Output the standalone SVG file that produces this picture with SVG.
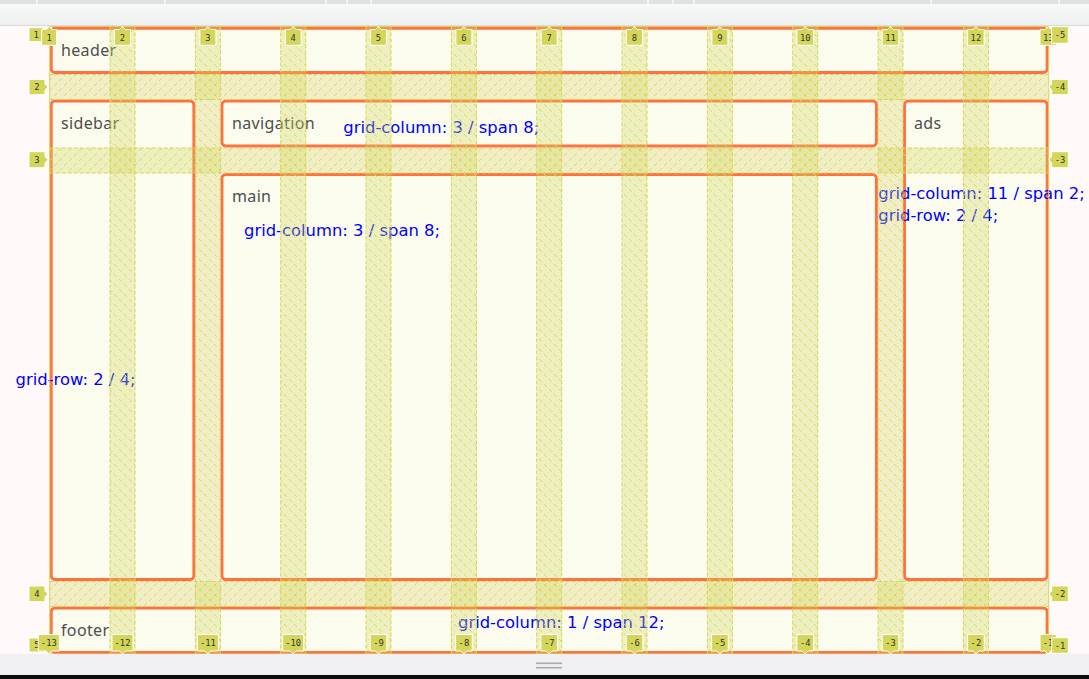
<svg xmlns="http://www.w3.org/2000/svg" width="1089" height="679" viewBox="0 0 1089 679">
<defs>
  <linearGradient id="tb" x1="0" y1="0" x2="0" y2="1">
    <stop offset="0" stop-color="#f9fafa"/><stop offset="1" stop-color="#eef0f0"/>
  </linearGradient>
  <pattern id="hr" width="10" height="10" patternUnits="userSpaceOnUse">
    <path d="M-1,11 L11,-1" stroke="#d6d85c" stroke-width="1" stroke-dasharray="4 3.07"/>
  </pattern>
  <pattern id="hc" width="10" height="10" patternUnits="userSpaceOnUse">
    <path d="M-1,-1 L11,11" stroke="#d6d85c" stroke-width="1" stroke-dasharray="4 3.07"/>
  </pattern>
  <style>
    .item{fill:#fbfbee;stroke:#ff7043;stroke-width:3}
    .name{font-family:"Noto Sans","Open Sans",sans-serif;font-size:16px;letter-spacing:0.35px;fill:#4e4e4e}
    .css{font-family:"DejaVu Sans",sans-serif;font-size:16.4px;fill:#0000ff}
    .gapf{fill:rgba(212,214,90,0.32)}
    .dash{stroke:#d4d65a;stroke-width:1;stroke-dasharray:4 2;fill:none}
    .lb path{fill:#d4d65a;stroke:#ffffff;stroke-width:1}
    .lb text{font-family:"DejaVu Sans Mono",monospace;font-size:8.8px;fill:#333;text-anchor:middle}
  </style>
</defs>

<!-- browser chrome -->
<rect x="0" y="0" width="1089" height="679" fill="#fffaf9"/>
<rect x="0" y="0" width="1089" height="25" fill="url(#tb)"/>
<rect x="0" y="0" width="1089" height="4" fill="#dfe1e5"/>
<g stroke="#ffffff" stroke-width="1.2">
  <line x1="37" y1="0" x2="37" y2="4"/><line x1="165" y1="0" x2="165" y2="4"/>
  <line x1="326" y1="0" x2="326" y2="4"/><line x1="347" y1="0" x2="347" y2="4"/>
  <line x1="371" y1="0" x2="371" y2="4"/><line x1="648" y1="0" x2="648" y2="4"/>
  <line x1="673" y1="0" x2="673" y2="4"/><line x1="694" y1="0" x2="694" y2="4"/>
  <line x1="931" y1="0" x2="931" y2="4"/><line x1="1059" y1="0" x2="1059" y2="4"/>
</g>
<line x1="0" y1="25.5" x2="1089" y2="25.5" stroke="#dcdcdf" stroke-width="1"/>

<!-- grid items -->
<g id="header"><rect class="item" x="51.2" y="28.2" width="996" height="44.3" rx="4"/><text class="name" x="61" y="56">header</text></g>
<g id="sidebar"><rect class="item" x="51.2" y="101" width="142.7" height="478.5" rx="4"/><text class="name" x="61" y="128.5">sidebar</text><text class="css" x="15.5" y="385">grid-row: 2 / 4;</text></g>
<g id="navigation"><rect class="item" x="221.9" y="101" width="654.6" height="45" rx="4"/><text class="name" x="232" y="128.5">navigation</text><text class="css" x="343.3" y="133.3">grid-column: 3 / span 8;</text></g>
<g id="main"><rect class="item" x="221.9" y="174.5" width="654.6" height="405" rx="4"/><text class="name" x="232" y="202">main</text><text class="css" x="244" y="236">grid-column: 3 / span 8;</text></g>
<g id="ads"><rect class="item" x="904.5" y="101" width="142.7" height="478.5" rx="4"/><text class="name" x="914" y="128.5">ads</text><text class="css" x="878.3" y="199.3">grid-column: 11 / span 2;</text><text class="css" x="878.3" y="220.7">grid-row: 2 / 4;</text></g>
<g id="footer"><rect class="item" x="51.2" y="608" width="996" height="44.5" rx="4"/><text class="name" x="61" y="636">footer</text><text class="css" x="458" y="627.5">grid-column: 1 / span 12;</text></g>

<!-- grid overlay -->
<g id="overlay">
  <g class="gapf">
    <rect x="49.7" y="74.5" width="999" height="25"/>
    <rect x="49.7" y="148" width="999" height="25"/>
    <rect x="49.7" y="581.5" width="999" height="25"/>
    <rect x="110.0" y="26.5" width="25" height="627.5"/><rect x="195.4" y="26.5" width="25" height="627.5"/>
    <rect x="280.7" y="26.5" width="25" height="627.5"/><rect x="366.0" y="26.5" width="25" height="627.5"/>
    <rect x="451.4" y="26.5" width="25" height="627.5"/><rect x="536.7" y="26.5" width="25" height="627.5"/>
    <rect x="622.0" y="26.5" width="25" height="627.5"/><rect x="707.4" y="26.5" width="25" height="627.5"/>
    <rect x="792.7" y="26.5" width="25" height="627.5"/><rect x="878.0" y="26.5" width="25" height="627.5"/>
    <rect x="963.4" y="26.5" width="25" height="627.5"/>
  </g>
  <g fill="url(#hr)">
    <rect x="49.7" y="74.5" width="999" height="25"/>
    <rect x="49.7" y="148" width="999" height="25"/>
    <rect x="49.7" y="581.5" width="999" height="25"/>
  </g>
  <g fill="url(#hc)">
    <rect x="110.0" y="26.5" width="25" height="627.5"/><rect x="195.4" y="26.5" width="25" height="627.5"/>
    <rect x="280.7" y="26.5" width="25" height="627.5"/><rect x="366.0" y="26.5" width="25" height="627.5"/>
    <rect x="451.4" y="26.5" width="25" height="627.5"/><rect x="536.7" y="26.5" width="25" height="627.5"/>
    <rect x="622.0" y="26.5" width="25" height="627.5"/><rect x="707.4" y="26.5" width="25" height="627.5"/>
    <rect x="792.7" y="26.5" width="25" height="627.5"/><rect x="878.0" y="26.5" width="25" height="627.5"/>
    <rect x="963.4" y="26.5" width="25" height="627.5"/>
  </g>
  <path class="dash" d="M110.0,26.5V654M135.0,26.5V654M195.4,26.5V654M220.4,26.5V654M280.7,26.5V654M305.7,26.5V654M366.0,26.5V654M391.0,26.5V654M451.4,26.5V654M476.4,26.5V654M536.7,26.5V654M561.7,26.5V654M622.0,26.5V654M647.0,26.5V654M707.4,26.5V654M732.4,26.5V654M792.7,26.5V654M817.7,26.5V654M878.0,26.5V654M903.0,26.5V654M963.4,26.5V654M988.4,26.5V654M49.7,74.5H1048.7M49.7,99.5H1048.7M49.7,148H1048.7M49.7,173H1048.7M49.7,581.5H1048.7M49.7,606.5H1048.7"/>
  <rect x="49.7" y="26.5" width="999" height="627.5" fill="none" stroke="#d4d65a" stroke-width="1"/>
</g>

<!-- line number labels: left rows -->
<g class="lb" id="rows-left">
  <path d="M29,27.7H43.5V41.7H29Z"/><text x="36.2" y="37.8">1</text>
  <path d="M29,79.3H45V84L48,87L45,90V94.7H29Z"/><text x="37" y="90.1">2</text>
  <path d="M29,151.7H45V156.5L48,159.7L45,163V167.7H29Z"/><text x="37" y="162.8">3</text>
  <path d="M29,586H45V591L48,594L45,597V601.7H29Z"/><text x="37" y="597">4</text>
  <path d="M29,638H45V652H29Z"/><text x="37" y="648">5</text>
</g>
<!-- column labels top -->
<g class="lb" id="cols-top">
  <path d="M41.7,29.5H46.2L49.2,26.5L52.2,29.5H56.7V45.3H41.7Z"/><text x="49.2" y="40.5">1</text>
  <path d="M114.5,29.5H119.5L122.5,26.5L125.5,29.5H130.5V45.3H114.5Z"/><text x="122.5" y="40.5">2</text>
  <path d="M199.9,29.5H204.9L207.9,26.5L210.9,29.5H215.9V45.3H199.9Z"/><text x="207.9" y="40.5">3</text>
  <path d="M285.2,29.5H290.2L293.2,26.5L296.2,29.5H301.2V45.3H285.2Z"/><text x="293.2" y="40.5">4</text>
  <path d="M370.5,29.5H375.5L378.5,26.5L381.5,29.5H386.5V45.3H370.5Z"/><text x="378.5" y="40.5">5</text>
  <path d="M455.9,29.5H460.9L463.9,26.5L466.9,29.5H471.9V45.3H455.9Z"/><text x="463.9" y="40.5">6</text>
  <path d="M541.2,29.5H546.2L549.2,26.5L552.2,29.5H557.2V45.3H541.2Z"/><text x="549.2" y="40.5">7</text>
  <path d="M626.5,29.5H631.5L634.5,26.5L637.5,29.5H642.5V45.3H626.5Z"/><text x="634.5" y="40.5">8</text>
  <path d="M711.9,29.5H716.9L719.9,26.5L722.9,29.5H727.9V45.3H711.9Z"/><text x="719.9" y="40.5">9</text>
  <path d="M796.9,29.5H802.2L805.2,26.5L808.2,29.5H813.5V45.3H796.9Z"/><text x="805.2" y="40.5">10</text>
  <path d="M882.2,29.5H887.5L890.5,26.5L893.5,29.5H898.8V45.3H882.2Z"/><text x="890.5" y="40.5">11</text>
  <path d="M967.6,29.5H972.9L975.9,26.5L978.9,29.5H984.2V45.3H967.6Z"/><text x="975.9" y="40.5">12</text>
  <path d="M1040,29.5H1045.3L1048.3,26.5L1051.3,29.5H1056.6V45.3H1040Z"/><text x="1048.3" y="40.5">13</text>
</g>
<!-- column labels bottom -->
<g class="lb" id="cols-bottom">
  <path d="M38.3,634.5H59.3V651H51.8L48.8,654L45.8,651H38.3Z"/><text x="48.8" y="645.5">-13</text>
  <path d="M112,634.5H133V651H125.5L122.5,654L119.5,651H112Z"/><text x="122.5" y="645.5">-12</text>
  <path d="M197.4,634.5H218.4V651H210.9L207.9,654L204.9,651H197.4Z"/><text x="207.9" y="645.5">-11</text>
  <path d="M282.7,634.5H303.7V651H296.2L293.2,654L290.2,651H282.7Z"/><text x="293.2" y="645.5">-10</text>
  <path d="M370.2,634.5H386.8V651H381.5L378.5,654L375.5,651H370.2Z"/><text x="378.5" y="645.5">-9</text>
  <path d="M455.6,634.5H472.2V651H466.9L463.9,654L460.9,651H455.6Z"/><text x="463.9" y="645.5">-8</text>
  <path d="M540.9,634.5H557.5V651H552.2L549.2,654L546.2,651H540.9Z"/><text x="549.2" y="645.5">-7</text>
  <path d="M626.2,634.5H642.8V651H637.5L634.5,654L631.5,651H626.2Z"/><text x="634.5" y="645.5">-6</text>
  <path d="M711.6,634.5H728.2V651H722.9L719.9,654L716.9,651H711.6Z"/><text x="719.9" y="645.5">-5</text>
  <path d="M796.9,634.5H813.5V651H808.2L805.2,654L802.2,651H796.9Z"/><text x="805.2" y="645.5">-4</text>
  <path d="M882.2,634.5H898.8V651H893.5L890.5,654L887.5,651H882.2Z"/><text x="890.5" y="645.5">-3</text>
  <path d="M967.6,634.5H984.2V651H978.9L975.9,654L972.9,651H967.6Z"/><text x="975.9" y="645.5">-2</text>
  <path d="M1040,634.5H1056.3V651H1051L1048,654L1045,651H1040Z"/><text x="1048" y="645.5">-1</text>
</g>
<!-- right row labels -->
<g class="lb" id="rows-right">
  <path d="M1051.7,26.7H1068.3V43.3H1051.7Z"/><text x="1060" y="38">-5</text>
  <path d="M1051.7,79.3H1068.3V94.7H1051.7V90L1048.7,87L1051.7,84Z"/><text x="1060" y="90.1">-4</text>
  <path d="M1051.7,151.7H1068.3V167.7H1051.7V163L1048.7,159.7L1051.7,156.5Z"/><text x="1060" y="162.8">-3</text>
  <path d="M1051.7,586H1068.3V601.7H1051.7V597L1048.7,594L1051.7,591Z"/><text x="1060" y="597">-2</text>
  <path d="M1051.7,637.7H1068.3V653.3H1051.7Z"/><text x="1060" y="648.5">-1</text>
</g>

<!-- bottom chrome -->
<rect x="0" y="654" width="1089" height="21" fill="#f0f0f4"/>
<g stroke="#a9a9ad" stroke-width="1.6">
  <line x1="536" y1="663.3" x2="562" y2="663.3"/><line x1="536" y1="667.7" x2="562" y2="667.7"/>
</g>
<rect x="0" y="675" width="1089" height="4" fill="#0c0c0d"/>
</svg>
